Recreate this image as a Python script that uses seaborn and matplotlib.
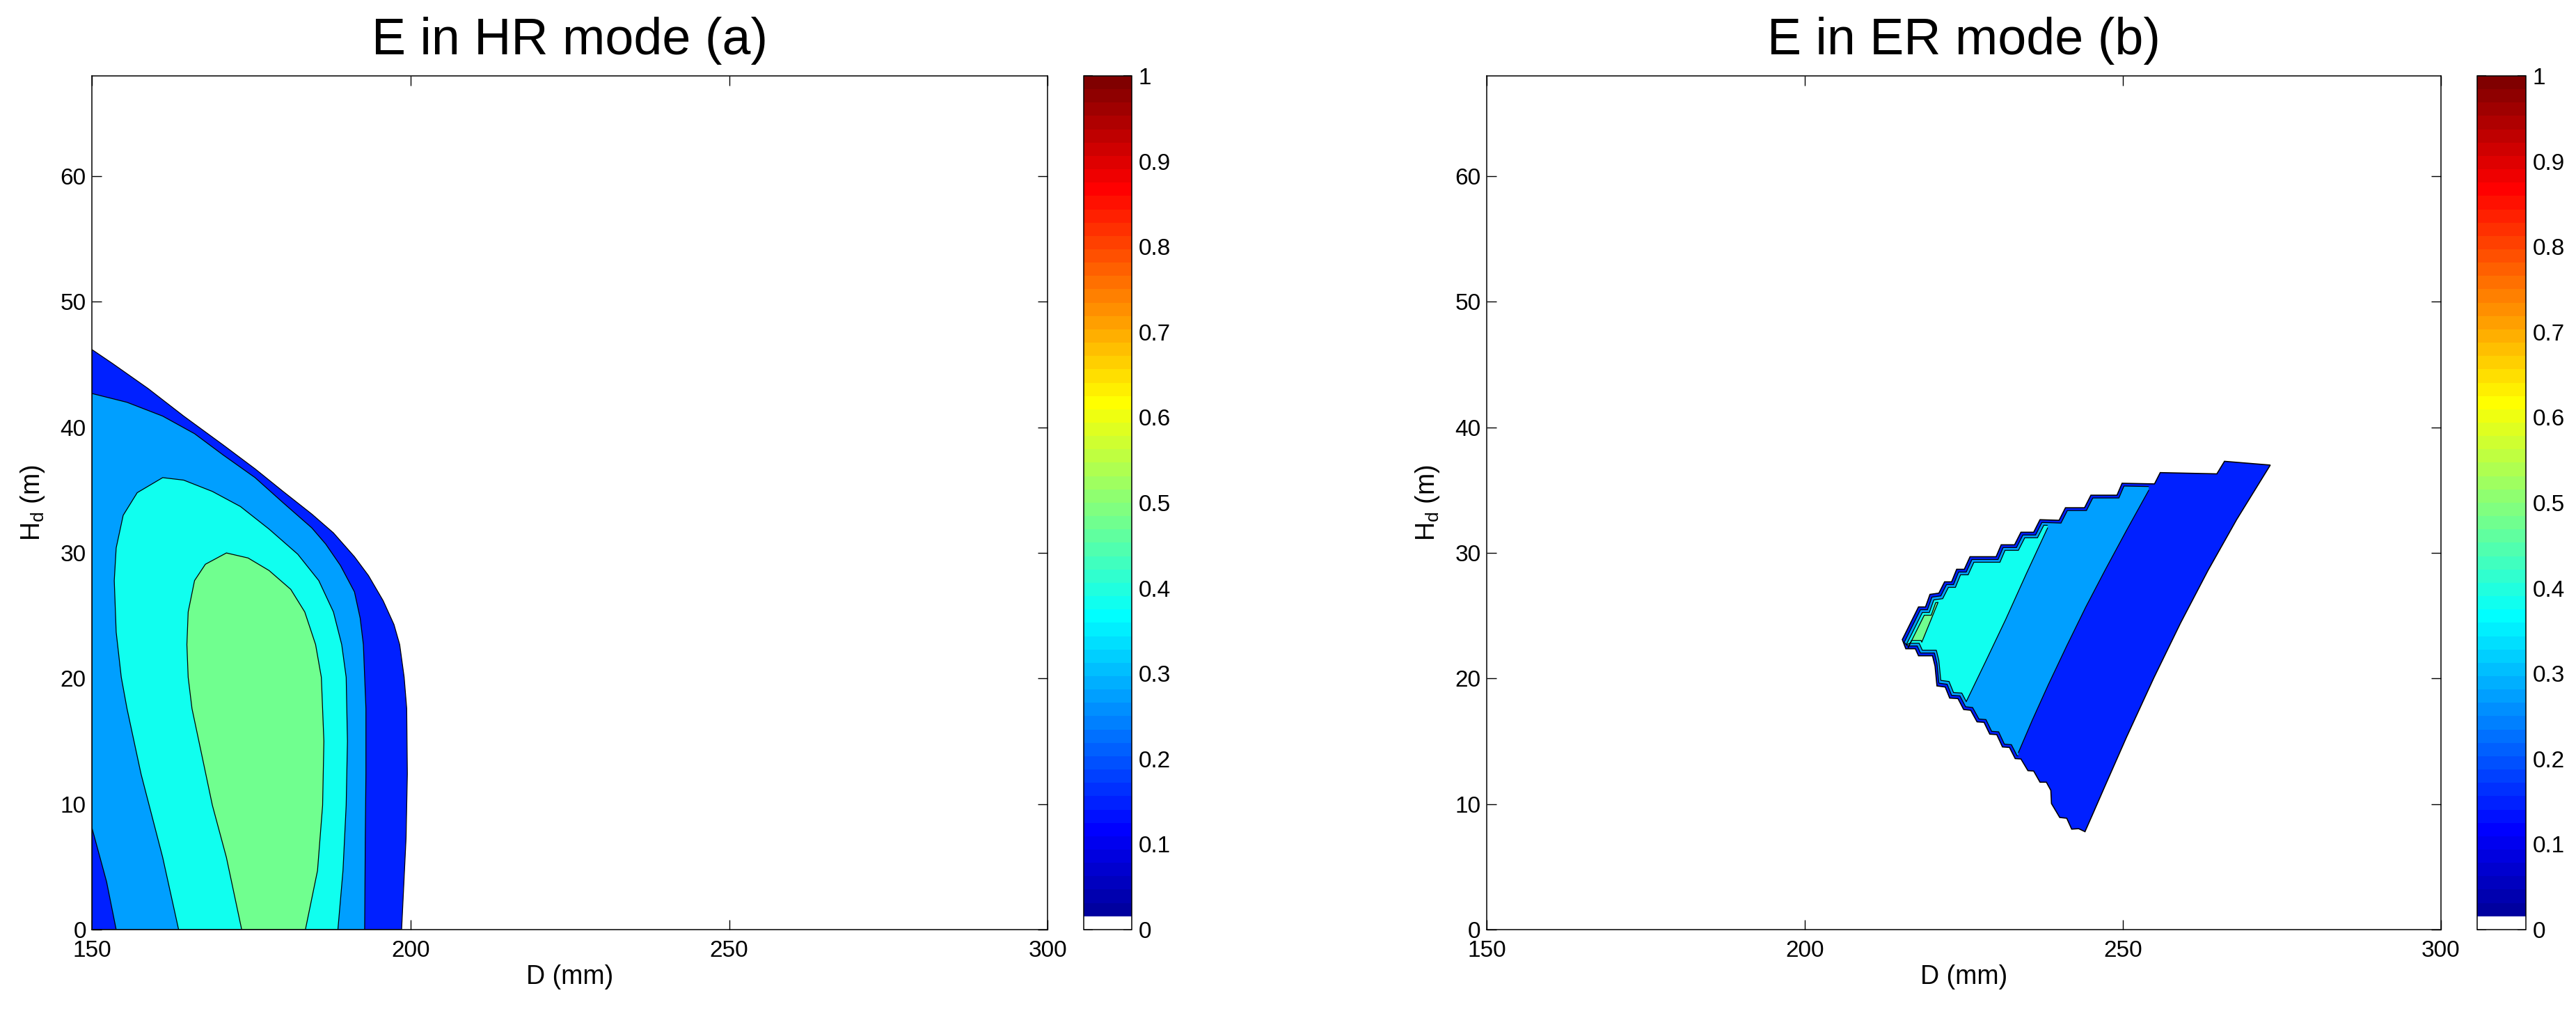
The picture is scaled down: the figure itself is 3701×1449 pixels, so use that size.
import numpy as np
import matplotlib
matplotlib.use('Agg')
import matplotlib.pyplot as plt
import seaborn as sns
from matplotlib.colors import ListedColormap, Normalize
from matplotlib.patches import Polygon
from matplotlib.cm import ScalarMappable
from matplotlib.ticker import FuncFormatter

# E value of each filled band (dark blue, light blue, cyan, green)
band_levels = [0.148, 0.273, 0.383, 0.477]

# --- (a) HR mode: nested band outlines, D (mm) / Hd (m) ---
hr_blue_D = [150, 150, 153.2, 158.8, 164.4, 170.6, 175.6, 180.0, 184.5, 187.9, 191.2,
             193.4, 195.7, 197.4, 198.3, 199.0, 199.4, 199.5, 199.3, 198.6]
hr_blue_H = [0, 46.2, 45.1, 43.1, 40.9, 38.6, 36.7, 34.9, 33.1, 31.6, 29.7,
             28.2, 26.2, 24.3, 22.7, 20.1, 17.6, 12.4, 7.3, 0]

hr_lblue_D = [150, 150, 155.5, 161.1, 166.1, 170.6, 175.6, 180.0, 184.5, 186.7, 189.0,
              191.2, 192.1, 192.6, 193.0, 193.0, 192.9, 192.8, 153.8, 152.3]
hr_lblue_H = [8.1, 42.7, 42.0, 40.9, 39.5, 37.8, 36.0, 34.0, 32.0, 30.7, 29.0,
              26.9, 24.8, 22.7, 17.6, 12.4, 7.3, 0, 0, 3.8]

hr_cyan_D = [163.6, 161.1, 157.7, 155.5, 154.6, 153.8, 153.5, 153.8, 154.9, 157.1, 161.1,
             164.4, 168.9, 173.3, 177.8, 182.3, 185.6, 187.9, 189.2, 189.9, 190.1,
             189.9, 189.4, 188.6]
hr_cyan_H = [0, 5.75, 12.4, 17.6, 20.1, 23.7, 27.8, 30.4, 33.0, 34.8, 36.0,
             35.8, 34.9, 33.7, 31.9, 29.9, 27.8, 25.3, 22.7, 20.1, 15.0,
             9.9, 4.7, 0]

hr_green_D = [173.5, 171.1, 168.9, 167.2, 165.7, 165.1, 164.9, 165.1, 166.1, 167.8, 171.1,
              174.5, 177.8, 181.2, 183.4, 185.1, 186.0, 186.4, 186.2, 185.4, 183.5]
hr_green_H = [0, 5.75, 9.9, 14.0, 17.6, 20.1, 22.7, 25.3, 27.8, 29.1, 30.0,
              29.6, 28.6, 27.1, 25.3, 22.7, 20.1, 15.0, 9.9, 4.7, 0]

# --- (b) ER mode: wedge outline (top steps, right side, bottom steps) ---
er_top_D = [215.35, 217.9, 219.0, 219.7, 221.1, 222.0, 223.1, 223.9, 225.1, 226.0, 230.1,
            230.9, 233.0, 234.0, 236.0, 237.0, 240.0, 241.0, 244.0, 245.0, 249.1,
            249.9, 255.0, 255.9, 264.8, 266.0, 273.2]
er_top_H = [23.1, 25.7, 25.7, 26.7, 26.8, 27.7, 27.7, 28.7, 28.7, 29.7, 29.7,
            30.65, 30.65, 31.65, 31.65, 32.65, 32.6, 33.6, 33.6, 34.6, 34.6,
            35.55, 35.5, 36.4, 36.3, 37.3, 37.0]

er_side_D = [273.2, 267.9, 263.4, 259.1, 254.9, 250.6, 247.2, 245.2, 244.07]
er_side_H = [37.0, 32.65, 28.6, 24.43, 20.06, 15.33, 11.42, 9.1, 7.8]

er_bot_D = [244.07, 243.07, 241.98, 241.2, 240.1, 238.8, 238.7, 238.0, 237.0, 236.0, 235.1,
            234.0, 233.1, 232.2, 231.1, 230.2, 229.1, 228.2, 227.1, 226.1, 225.0,
            224.1, 222.8, 222.1, 220.8, 220.5, 220.1, 217.9, 217.4, 215.9, 215.35]
er_bot_H = [7.8, 8.04, 8.0, 8.87, 8.93, 10.04, 11.09, 11.74, 11.74, 12.63, 12.66,
            13.59, 13.62, 14.51, 14.55, 15.53, 15.57, 16.51, 16.55, 17.47, 17.53,
            18.4, 18.44, 19.32, 19.41, 20.98, 21.81, 21.81, 22.37, 22.37, 23.1]

# band boundaries inside the wedge, top to bottom
er_lblue_edge_D = [254.1, 250.6, 247.3, 244.2, 241.2, 238.3, 235.8, 233.6]
er_lblue_edge_H = [35.0, 31.8, 28.7, 25.7, 22.6, 19.5, 16.7, 14.1]
er_cyan_edge_D = [238.2, 234.9, 231.6, 228.4, 225.3]
er_cyan_edge_H = [32.0, 28.4, 24.7, 21.3, 18.05]
er_green_edge_D = [221.0, 218.1]
er_green_edge_H = [26.1, 22.5]

x_ticks = [150, 200, 250, 300]
y_ticks = [0, 10, 20, 30, 40, 50, 60]
cbar_ticks = [0, 0.1, 0.2, 0.3, 0.4, 0.5, 0.6, 0.7, 0.8, 0.9, 1.0]
titles = ['E in HR mode (a)', 'E in ER mode (b)']


def matlab_jet(n=64):
    """MATLAB style jet(n) colormap"""
    m = n // 4
    u = np.concatenate([np.arange(1, m + 1) / m, np.ones(m - 1), np.arange(m, 0, -1) / m])
    g = m // 2 + np.arange(1, len(u) + 1)
    r = g + m
    b = g - m
    J = np.zeros((n, 3))
    r_ok = r[r <= n]
    J[r_ok - 1, 0] = u[:len(r_ok)]
    J[g - 1, 1] = u
    b_ok = b[b >= 1]
    J[b_ok - 1, 2] = u[len(u) - len(b_ok):]
    return J


sns.set_style('white')
plt.rcParams['font.family'] = ['Liberation Sans', 'DejaVu Sans']
plt.rcParams['mathtext.fontset'] = 'custom'
plt.rcParams['mathtext.rm'] = 'Liberation Sans'
plt.rcParams['mathtext.it'] = 'Liberation Sans:italic'
plt.rcParams['text.color'] = 'k'
plt.rcParams['axes.labelcolor'] = 'k'

jet = matlab_jet(64)
jet[0] = [1, 1, 1]
cmap = ListedColormap(jet)
norm = Normalize(0, 1)
band_colors = [cmap(norm(v)) for v in band_levels]

fig = plt.figure(figsize=(37.01, 14.49), dpi=100)
ax_a = fig.add_axes([0.0357, 0.0787, 0.3710, 0.8461])
ax_b = fig.add_axes([0.5771, 0.0787, 0.3704, 0.8461])
cax_a = fig.add_axes([0.4207, 0.0787, 0.0186, 0.8461])
cax_b = fig.add_axes([0.9616, 0.0787, 0.0189, 0.8461])

edge_lw = 0.9

# (a) nested filled regions
hr_bands = [(hr_blue_D, hr_blue_H), (hr_lblue_D, hr_lblue_H),
            (hr_cyan_D, hr_cyan_H), (hr_green_D, hr_green_H)]
for (D, H), col in zip(hr_bands, band_colors):
    ax_a.fill(D, H, facecolor=col, edgecolor='k', lw=edge_lw, zorder=2)

# (b) wedge: each higher band is inset a little along the stepped edge
dD, dH = 0.3, 0.22
outer = np.column_stack([er_top_D + er_side_D[1:] + er_bot_D[1:-1],
                         er_top_H + er_side_H[1:] + er_bot_H[1:-1]])
ax_b.add_patch(Polygon(outer, closed=True, facecolor=band_colors[0],
                       edgecolor='k', lw=edge_lw * 1.3, zorder=2))

edges = [(er_lblue_edge_D, er_lblue_edge_H), (er_cyan_edge_D, er_cyan_edge_H),
         (er_green_edge_D, er_green_edge_H)]
for k, ((eD, eH), col) in enumerate(zip(edges, band_colors[1:]), start=1):
    top = np.column_stack([np.array(er_top_D) + k * dD, np.array(er_top_H) - k * dH])
    side = np.column_stack([er_side_D[1:-1], er_side_H[1:-1]])
    bot = np.column_stack([np.array(er_bot_D) + k * dD, np.array(er_bot_H) + k * dH])
    inset = np.vstack([top, side, bot[:-1]])
    region = np.vstack([[150, 68], [eD[0], 68], np.column_stack([eD, eH]),
                        [eD[-1], 0], [150, 0]])
    band = Polygon(inset, closed=True, facecolor=col, edgecolor='k',
                   lw=edge_lw, zorder=2 + k)
    ax_b.add_patch(band)
    band.set_clip_path(Polygon(region, closed=True, transform=ax_b.transData))
    sns.lineplot(x=eD, y=eH, sort=False, estimator=None, color='k',
                 lw=edge_lw, ax=ax_b, zorder=2 + k)
    ax_b.lines[-1].set_clip_path(band)

for ax, title in zip([ax_a, ax_b], titles):
    ax.set_xlim(150, 300)
    ax.set_ylim(0, 68)
    ax.set_xticks(x_ticks)
    ax.set_yticks(y_ticks)
    ax.tick_params(direction='in', top=True, right=True, bottom=True, left=True,
                   length=10, width=1, labelsize=24, pad=6, colors='k')
    ax.tick_params(axis='x', pad=11)
    for s in ax.spines.values():
        s.set_linewidth(1.1)
        s.set_color('k')
        s.set_zorder(10)
    ax.set_xlabel('D (mm)', fontsize=27, labelpad=3)
    ax.set_ylabel(r'H$_\mathrm{d}$ (m)', fontsize=27, labelpad=14)
    ax.set_title(title, fontsize=53, pad=22)

for cax in [cax_a, cax_b]:
    cb = fig.colorbar(ScalarMappable(norm=norm, cmap=cmap), cax=cax, ticks=cbar_ticks)
    cb.outline.set_linewidth(1.1)
    cb.outline.set_edgecolor('k')
    cax.yaxis.set_major_formatter(FuncFormatter(lambda v, p: f'{v:g}'))
    cax.tick_params(direction='in', left=True, right=True, length=9, width=1.2,
                    labelsize=24, pad=7, colors='k')

fig.savefig('out.png', dpi=100, facecolor='white')
